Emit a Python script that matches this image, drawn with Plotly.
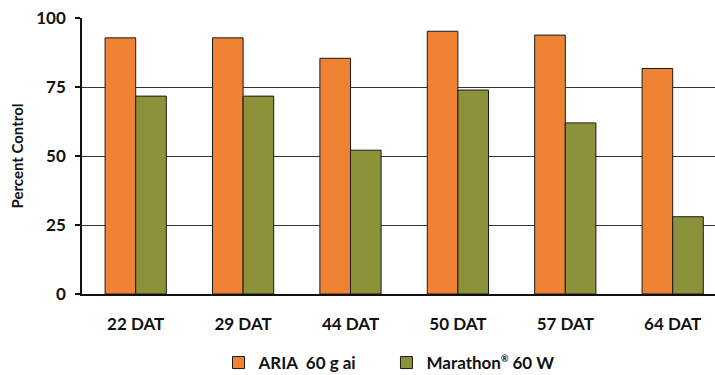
import plotly.graph_objects as go

categories = ["22 DAT", "29 DAT", "44 DAT", "50 DAT", "57 DAT", "64 DAT"]
aria_values = [92.8, 92.8, 85.4, 95.2, 93.8, 81.7]
marathon_values = [71.7, 71.7, 52.1, 73.9, 62.0, 28.0]
y_ticks = [0, 25, 50, 75, 100]

series_names = [
    "ARIA  60 g ai\u00a0\u00a0\u00a0\u00a0\u00a0\u00a0",
    "Marathon<sup><span style='font-size:9px'>®</span></sup> 60 W",
]
series_colors = ["#F08333", "#8C9239"]

font_family = "Lato, 'DejaVu Sans', sans-serif"

fig = go.Figure()
for name, vals, color in zip(series_names, [aria_values, marathon_values], series_colors):
    fig.add_trace(go.Bar(
        x=categories, y=vals, name=name,
        marker=dict(color=color, line=dict(color="#1a1a1a", width=1)),
    ))

fig.update_layout(
    width=715, height=375,
    margin=dict(l=82, r=0, t=18, b=81),
    paper_bgcolor="white", plot_bgcolor="white",
    barmode="group", bargap=0.43, bargroupgap=0,
    font=dict(family=font_family, size=17, color="#111", weight="bold"),
    showlegend=True,
    legend=dict(
        orientation="h", x=0.485, xanchor="center",
        yref="container", y=0.032, yanchor="middle",
        font=dict(size=17, family=font_family, weight="bold"),
        itemwidth=30, traceorder="normal",
    ),
    xaxis=dict(
        range=[-0.5, 5.394], showgrid=False, ticks="",
        showline=True, linecolor="#111", linewidth=1.5,
        tickfont=dict(size=17, weight="bold"),
        ticklabelstandoff=14,
    ),
    yaxis=dict(
        range=[0, 100], tickvals=y_ticks, ticks="outside", ticklen=5,
        tickcolor="#111", tickwidth=1.5,
        showline=True, linecolor="#111", linewidth=1.5,
        showgrid=True, gridcolor="#333", gridwidth=1.3,
        zeroline=False,
        tickfont=dict(size=17, weight="bold"),
        ticklabelstandoff=6,
        title=dict(text="Percent Control", font=dict(size=15, weight="bold"), standoff=9),
    ),
)

fig.write_html("out.html")
